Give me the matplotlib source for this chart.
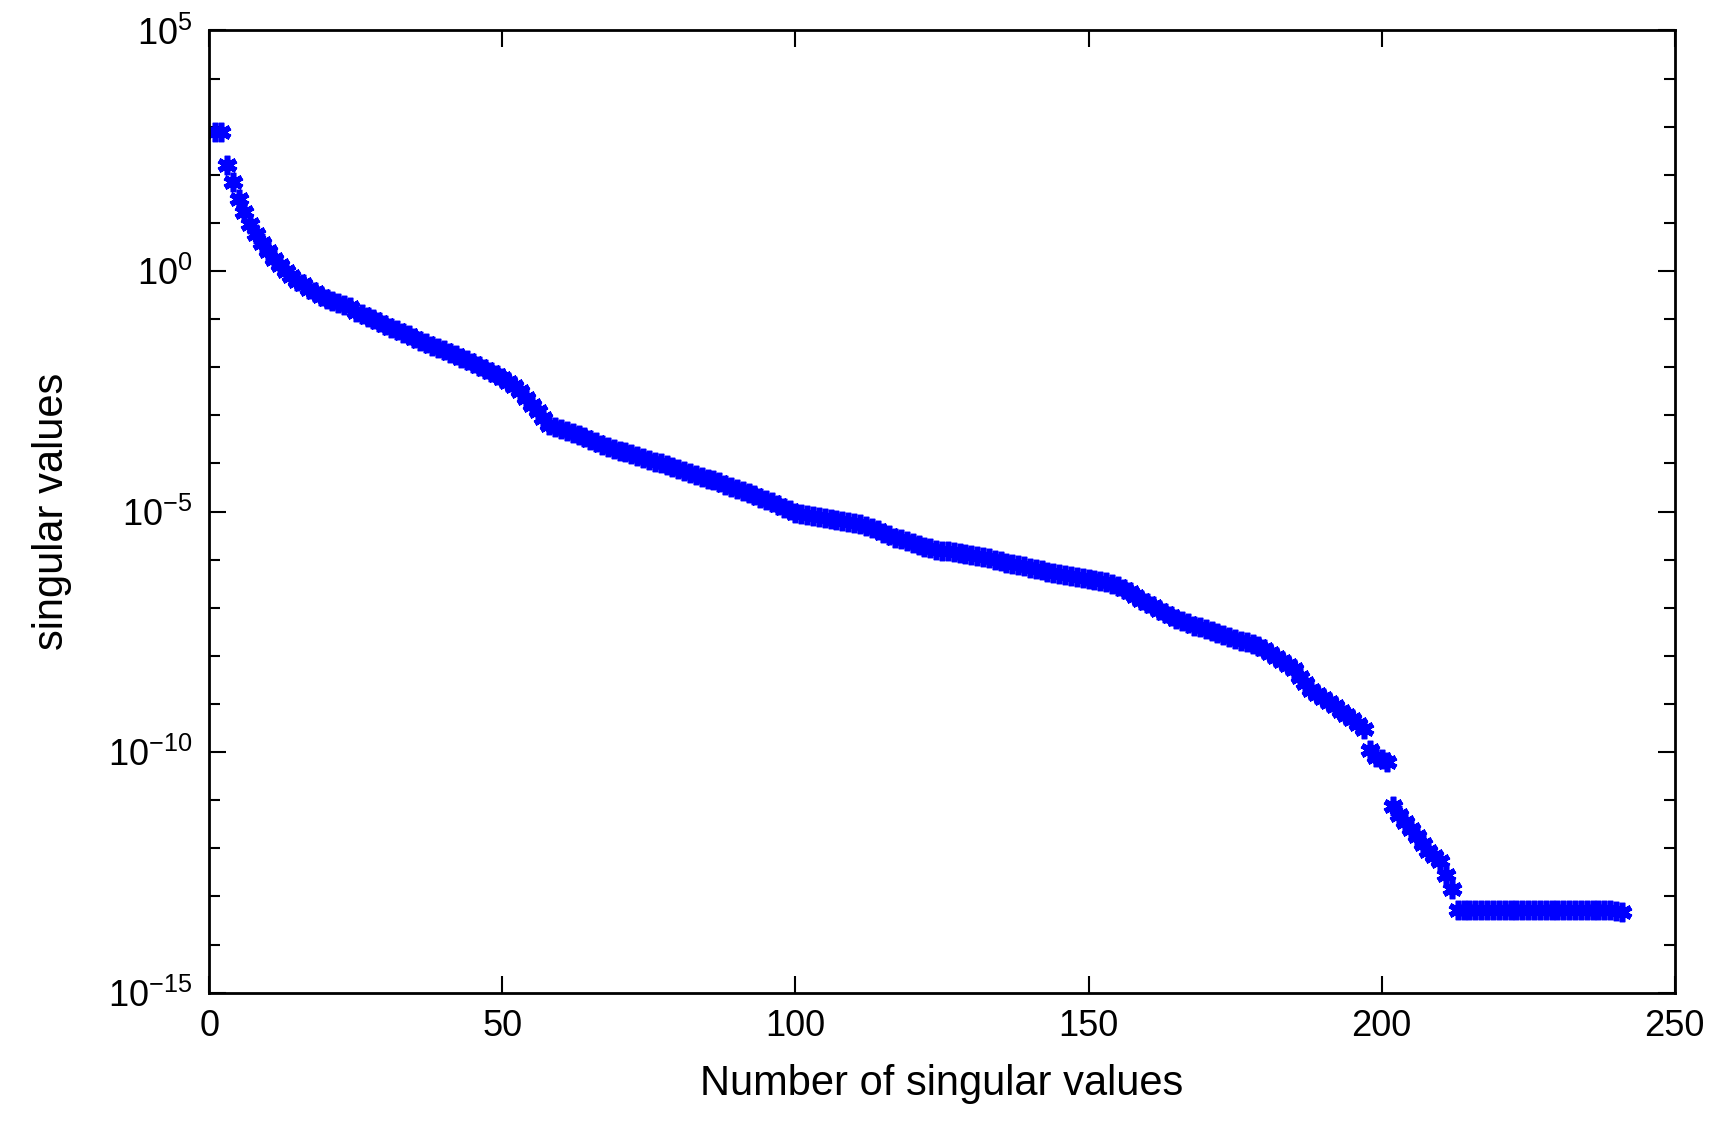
import numpy as np
import matplotlib
matplotlib.use("Agg")
import matplotlib.pyplot as plt

log_sv = [2.89, 2.89, 2.20, 1.85, 1.50, 1.23, 0.98, 0.77, 0.59, 0.41,
          0.25, 0.13, 0.00, -0.10, -0.20, -0.28, -0.37, -0.44, -0.51, -0.58,
          -0.63, -0.67, -0.70, -0.74, -0.86, -0.90, -0.95, -1.00, -1.06, -1.13,
          -1.18, -1.23, -1.28, -1.34, -1.40, -1.45, -1.50, -1.55, -1.60, -1.65,
          -1.70, -1.75, -1.80, -1.86, -1.92, -1.98, -2.03, -2.09, -2.16,
          -2.22, -2.30, -2.40, -2.50,
          -2.64, -2.78, -2.92, -3.06, -3.20,
          -3.25, -3.29, -3.32, -3.36,
          -3.41, -3.46, -3.51, -3.56, -3.61, -3.66,
          -3.70, -3.74, -3.77, -3.81, -3.85, -3.89, -3.92, -3.96, -4.00,
          -4.04, -4.08, -4.12, -4.16, -4.20, -4.24, -4.28, -4.32, -4.35, -4.39,
          -4.44, -4.48, -4.53, -4.57, -4.62, -4.66, -4.71, -4.75, -4.80,
          -4.86, -4.92, -4.97, -5.03,
          -5.05, -5.07, -5.09, -5.11, -5.13, -5.15, -5.17, -5.19, -5.21, -5.23, -5.26,
          -5.30, -5.34, -5.39, -5.44, -5.49, -5.54, -5.58, -5.62,
          -5.66, -5.70, -5.73, -5.76, -5.79,
          -5.81, -5.83, -5.85, -5.87, -5.89, -5.91, -5.93, -5.95, -5.97, -6.00,
          -6.03, -6.06, -6.08, -6.11, -6.14, -6.17, -6.19, -6.22, -6.25,
          -6.27, -6.29, -6.31, -6.33, -6.36, -6.38, -6.40, -6.42, -6.44, -6.46,
          -6.50, -6.55, -6.61, -6.68, -6.76,
          -6.83, -6.90, -6.97, -7.04, -7.11, -7.18, -7.24, -7.28,
          -7.32, -7.37, -7.41, -7.45, -7.49,
          -7.53, -7.57, -7.61, -7.65, -7.69, -7.72, -7.75, -7.79,
          -7.86, -7.94, -8.02, -8.10, -8.18, -8.28,
          -8.43, -8.57, -8.71,
          -8.80, -8.88, -8.96, -9.05,
          -9.14, -9.23, -9.32, -9.42, -9.51,
          -9.95, -10.10, -10.15, -10.20,
          -11.12, -11.30, -11.45, -11.60, -11.75, -11.92, -12.05, -12.15, -12.27, -12.55, -12.84,
          -13.28, -13.28, -13.28, -13.28, -13.28, -13.28, -13.28, -13.28, -13.28, -13.28,
          -13.28, -13.28, -13.28, -13.28, -13.28, -13.28, -13.28, -13.28, -13.28, -13.28,
          -13.28, -13.28, -13.28, -13.28, -13.28, -13.29, -13.29, -13.30, -13.32]
index = np.arange(1, len(log_sv) + 1)
sv = 10.0 ** np.array(log_sv)

x_ticks = [0, 50, 100, 150, 200, 250]
y_ticks = [1e5, 1e0, 1e-5, 1e-10, 1e-15]

plt.rcParams['font.family'] = ['Liberation Sans', 'DejaVu Sans']
fig = plt.figure(figsize=(17.3, 11.28), dpi=100)
ax = fig.add_axes([0.121, 0.120, 0.847, 0.853])
ax.semilogy(index, sv, linestyle='none', marker=(6, 2, 0), color='blue',
            markersize=14, markeredgewidth=4)
ax.set_xlim(0, 250)
ax.set_ylim(1e-15, 1e5)
ax.set_xticks(x_ticks)
ax.set_yticks(y_ticks)
ax.yaxis.set_minor_locator(matplotlib.ticker.LogLocator(base=10, subs=[1.0], numticks=30))
ax.yaxis.set_minor_formatter(matplotlib.ticker.NullFormatter())
ax.tick_params(which='both', direction='in', top=True, right=True, labelsize=26, width=1.5)
ax.tick_params(which='major', length=12, pad=12)
ax.tick_params(which='minor', length=8)
for s in ax.spines.values():
    s.set_linewidth(2)
ax.set_xlabel('Number of singular values', fontsize=30, labelpad=14)
ax.set_ylabel('singular values', fontsize=30, labelpad=26)
fig.savefig('out.png', dpi=100)
